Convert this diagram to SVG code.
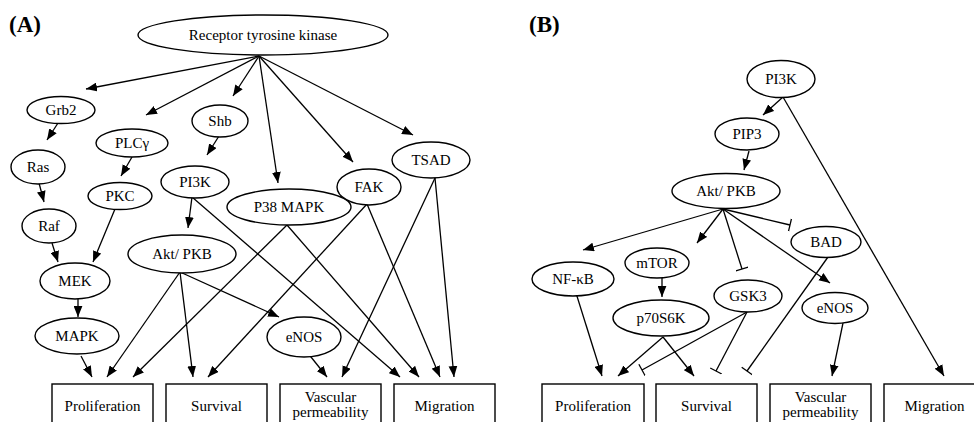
<svg xmlns="http://www.w3.org/2000/svg" width="974" height="422" viewBox="0 0 974 422" font-family="'Liberation Serif', 'DejaVu Serif', serif">
<style>
  .n ellipse, .n rect { fill: #fff; stroke: #000; stroke-width: 1.4; }
  .n text { font-family: 'Liberation Serif', 'DejaVu Serif', serif; font-size: 15px; text-anchor: middle; fill: #000; }
  .lbl { font-family: 'Liberation Serif', 'DejaVu Serif', serif; font-size: 23px; font-weight: bold; fill: #000; }
  .e line { stroke: #000; stroke-width: 1.3; fill: none; }
  .a { marker-end: url(#arr); }
  .t { marker-end: url(#tee); }
</style>
<defs>
  <marker id="arr" viewBox="0 0 10 8" refX="10" refY="4" markerWidth="11" markerHeight="9" markerUnits="userSpaceOnUse" orient="auto">
    <path d="M0,0 L10,4 L0,8 z" fill="#000"/>
  </marker>
  <marker id="tee" viewBox="0 0 4 14" refX="2" refY="7" markerWidth="4" markerHeight="13" markerUnits="userSpaceOnUse" orient="auto">
    <path d="M2,0 L2,14" stroke="#000" stroke-width="1.4"/>
  </marker>
</defs>
<rect width="974" height="422" fill="#fff"/>
<text class="lbl" x="9" y="32">(A)</text>
<text class="lbl" x="529" y="32">(B)</text>

<g id="edges-A" class="e">
  <line class="a" x1="259" y1="56" x2="86" y2="89"/>
  <line class="a" x1="259" y1="56" x2="146" y2="115"/>
  <line class="a" x1="259" y1="56" x2="233" y2="96"/>
  <line class="a" x1="259" y1="56" x2="278" y2="183"/>
  <line class="a" x1="259" y1="56" x2="353" y2="162"/>
  <line class="a" x1="259" y1="56" x2="413" y2="135"/>
  <line class="a" x1="58" y1="123" x2="47" y2="140"/>
  <line class="a" x1="132" y1="157" x2="121" y2="176"/>
  <line class="a" x1="219" y1="136" x2="207" y2="155"/>
  <line class="a" x1="39" y1="183" x2="44" y2="202"/>
  <line class="a" x1="115" y1="209" x2="93" y2="262"/>
  <line class="a" x1="52" y1="243" x2="58" y2="262"/>
  <line class="a" x1="192" y1="197" x2="188" y2="228"/>
  <line class="a" x1="78" y1="299" x2="78" y2="317"/>
  <line class="a" x1="81" y1="356" x2="92" y2="377"/>
  <line class="a" x1="180" y1="272" x2="107" y2="377"/>
  <line class="a" x1="287" y1="225" x2="133" y2="377"/>
  <line class="a" x1="180" y1="272" x2="193" y2="377"/>
  <line class="a" x1="367" y1="204" x2="208" y2="377"/>
  <line class="a" x1="180" y1="272" x2="279" y2="317"/>
  <line class="a" x1="307" y1="352" x2="327" y2="377"/>
  <line class="a" x1="435" y1="178" x2="342" y2="377"/>
  <line class="a" x1="192" y1="197" x2="400" y2="377"/>
  <line class="a" x1="287" y1="225" x2="419" y2="377"/>
  <line class="a" x1="367" y1="204" x2="440" y2="377"/>
  <line class="a" x1="435" y1="178" x2="454" y2="377"/>
</g>

<g id="edges-B" class="e">
  <line class="a" x1="783" y1="97" x2="763" y2="115"/>
  <line class="a" x1="783" y1="97" x2="944" y2="376"/>
  <line class="a" x1="749" y1="151" x2="744" y2="170"/>
  <line class="a" x1="723" y1="209" x2="583" y2="250"/>
  <line class="a" x1="723" y1="209" x2="697" y2="243"/>
  <line class="t" x1="723" y1="209" x2="742" y2="269"/>
  <line class="t" x1="723" y1="209" x2="790" y2="225"/>
  <line class="a" x1="723" y1="209" x2="830" y2="283"/>
  <line class="a" x1="662" y1="278" x2="662" y2="297"/>
  <line class="a" x1="576" y1="293" x2="602" y2="376"/>
  <line class="a" x1="663" y1="337" x2="618" y2="376"/>
  <line class="a" x1="663" y1="337" x2="694" y2="376"/>
  <line class="t" x1="747" y1="312" x2="642" y2="370"/>
  <line class="t" x1="747" y1="312" x2="716" y2="371"/>
  <line class="t" x1="828" y1="257" x2="747" y2="371"/>
  <line class="a" x1="843" y1="323" x2="832" y2="376"/>
</g>

<g id="A-rtk" class="n"><ellipse cx="263" cy="35" rx="125" ry="20"/><text x="263" y="40">Receptor tyrosine kinase</text></g>
<g id="A-grb2" class="n"><ellipse cx="61" cy="110" rx="34" ry="13.5"/><text x="61" y="115">Grb2</text></g>
<g id="A-plcg" class="n"><ellipse cx="132" cy="143" rx="36" ry="14"/><text x="132" y="148">PLCγ</text></g>
<g id="A-shb" class="n"><ellipse cx="220" cy="121" rx="28" ry="16"/><text x="220" y="126">Shb</text></g>
<g id="A-tsad" class="n"><ellipse cx="431" cy="160" rx="39" ry="18"/><text x="431" y="165">TSAD</text></g>
<g id="A-ras" class="n"><ellipse cx="38" cy="167" rx="27" ry="17"/><text x="38" y="172">Ras</text></g>
<g id="A-pkc" class="n"><ellipse cx="120" cy="196" rx="32" ry="13.5"/><text x="120" y="201">PKC</text></g>
<g id="A-pi3k" class="n"><ellipse cx="195" cy="182" rx="34" ry="16"/><text x="195" y="187">PI3K</text></g>
<g id="A-p38" class="n"><ellipse cx="289" cy="207" rx="62" ry="18"/><text x="289" y="212">P38 MAPK</text></g>
<g id="A-fak" class="n"><ellipse cx="369" cy="187" rx="32" ry="18"/><text x="369" y="192">FAK</text></g>
<g id="A-raf" class="n"><ellipse cx="49" cy="226" rx="27" ry="17"/><text x="49" y="231">Raf</text></g>
<g id="A-akt" class="n"><ellipse cx="182" cy="254" rx="54" ry="19"/><text x="182" y="259">Akt/ PKB</text></g>
<g id="A-mek" class="n"><ellipse cx="75" cy="281" rx="35" ry="18"/><text x="75" y="286">MEK</text></g>
<g id="A-mapk" class="n"><ellipse cx="77" cy="336" rx="42" ry="18"/><text x="77" y="341">MAPK</text></g>
<g id="A-enos" class="n"><ellipse cx="304" cy="337" rx="37" ry="20"/><text x="304" y="342">eNOS</text></g>

<g id="A-prolif" class="n"><rect x="52" y="384" width="101" height="50"/><text x="102.5" y="411">Proliferation</text></g>
<g id="A-surv" class="n"><rect x="166" y="384" width="101" height="50"/><text x="216.5" y="411">Survival</text></g>
<g id="A-vasc" class="n"><rect x="280" y="384" width="101" height="50"/><text x="330.5" y="402">Vascular</text><text x="330.5" y="417">permeability</text></g>
<g id="A-migr" class="n"><rect x="394" y="384" width="101" height="50"/><text x="444.5" y="411">Migration</text></g>

<g id="B-pi3k" class="n"><ellipse cx="781" cy="79" rx="34" ry="18.5"/><text x="781" y="84">PI3K</text></g>
<g id="B-pip3" class="n"><ellipse cx="747" cy="134" rx="32" ry="16"/><text x="747" y="139">PIP3</text></g>
<g id="B-akt" class="n"><ellipse cx="726" cy="191" rx="54" ry="17.5"/><text x="726" y="196">Akt/ PKB</text></g>
<g id="B-bad" class="n"><ellipse cx="826" cy="242" rx="35" ry="15.5"/><text x="826" y="247">BAD</text></g>
<g id="B-nfkb" class="n"><ellipse cx="573" cy="279" rx="41" ry="17"/><text x="573" y="284">NF-κB</text></g>
<g id="B-mtor" class="n"><ellipse cx="657" cy="263" rx="32" ry="15"/><text x="657" y="268">mTOR</text></g>
<g id="B-gsk3" class="n"><ellipse cx="748" cy="296" rx="34" ry="16"/><text x="748" y="301">GSK3</text></g>
<g id="B-enos" class="n"><ellipse cx="835" cy="308" rx="33" ry="15.5"/><text x="835" y="313">eNOS</text></g>
<g id="B-p70" class="n"><ellipse cx="661" cy="318" rx="48" ry="18"/><text x="661" y="323">p70S6K</text></g>

<g id="B-prolif" class="n"><rect x="542" y="384" width="102" height="50"/><text x="593" y="411">Proliferation</text></g>
<g id="B-surv" class="n"><rect x="656" y="384" width="101" height="50"/><text x="706.5" y="411">Survival</text></g>
<g id="B-vasc" class="n"><rect x="770" y="384" width="101" height="50"/><text x="820.5" y="402">Vascular</text><text x="820.5" y="417">permeability</text></g>
<g id="B-migr" class="n"><rect x="884" y="384" width="101" height="50"/><text x="934.5" y="411">Migration</text></g>
</svg>
